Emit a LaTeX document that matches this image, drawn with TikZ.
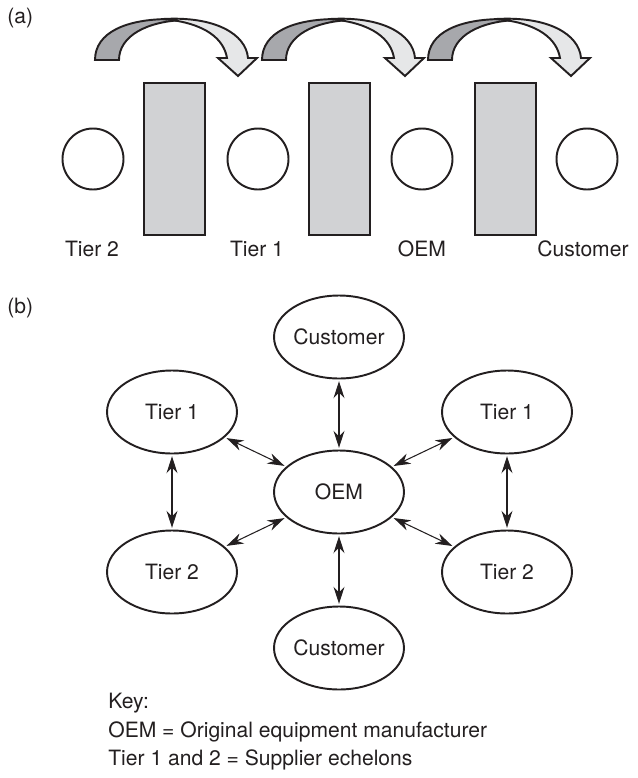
\documentclass[tikz,border=0pt]{standalone}
\usepackage{fontspec}
\setmainfont{TeX Gyre Heros}
\usepackage{tikz}
\usetikzlibrary{arrows.meta, shapes.geometric, positioning}
\definecolor{InkBlack}{RGB}{35,31,32}
\definecolor{ArcDark}{RGB}{167,168,172}
\definecolor{ArcLight}{RGB}{230,231,232}
\definecolor{BoxGray}{RGB}{209,210,212}

\begin{document}
\begin{tikzpicture}[x=0.02cm, y=-0.02cm, font=\fontsize{12}{14}\selectfont, InkBlack,
	tier/.style={ellipse, draw=InkBlack, line width=1.1pt, minimum width=2.6cm,
		minimum height=1.66cm, inner sep=0pt},
	link/.style={{Stealth[length=3.4mm, width=2.2mm]}-{Stealth[length=3.4mm, width=2.2mm]},
		line width=0.6pt, shorten <=1pt, shorten >=1pt},
	plain/.style={inner sep=0pt}]
	\useasboundingbox (0,0) rectangle (638,778);

	% (a) linear chain
	\node[plain, anchor=base west] (labA) at (7,23) {(a)};
	\foreach \x in {95,262,428} {
		\draw[fill=ArcDark, line width=1.1pt] (\x,60) .. controls (\x,32) and (\x+32,19) .. (\x+75,19)
			.. controls (\x+81,19) and (\x+86,19.5) .. (\x+90,20)
			.. controls (\x+52,21) and (\x+24,36) .. (\x+24,60) -- cycle;
		\draw[fill=ArcLight, line width=1.1pt, line join=miter] (\x+68,19)
			.. controls (\x+120,16) and (\x+151,34) .. (\x+153,58) -- (\x+162,58) -- (\x+143,76)
			-- (\x+123,58) -- (\x+132,58) .. controls (\x+129,40) and (\x+112,23) .. (\x+68,19) -- cycle;
	}
	\foreach \x in {144,309,475}
		\draw[fill=BoxGray, line width=1.1pt] (\x,83) rectangle (\x+61,235);
	\foreach \x/\lx/\name/\txt in {93/92/stTwo/Tier 2, 258/257/stOne/Tier 1,
			422/422/stOem/OEM, 587/583/stCus/Customer} {
		\node[circle, draw=InkBlack, line width=1.1pt, minimum size=1.22cm, inner sep=0pt] (\name) at (\x,159) {};
		\node[plain, anchor=base] (\name-lab) at (\lx,256) {\txt};
	}

	% (b) network round the OEM
	\node[plain, anchor=base west] (labB) at (7,313) {(b)};
	\node[tier] (oem) at (339,492) {OEM};
	\node[tier] (cusTop) at (339,337) {Customer};
	\node[tier] (cusBot) at (339,648) {Customer};
	\node[tier] (oneL) at (172,412) {Tier 1};
	\node[tier] (oneR) at (507,412) {Tier 1};
	\node[tier] (twoL) at (172,572) {Tier 2};
	\node[tier] (twoR) at (507,572) {Tier 2};

	\draw[link] (cusTop) -- (oem);
	\draw[link] (oem) -- (cusBot);
	\draw[link] (oneL) -- (oem);
	\draw[link] (oneR) -- (oem);
	\draw[link] (twoL) -- (oem);
	\draw[link] (twoR) -- (oem);
	\draw[link] (oneL) -- (twoL);
	\draw[link] (oneR) -- (twoR);

	% key
	\node[plain, anchor=base west] (key) at (108,708) {Key:};
	\node[plain, anchor=base west] (keyOem) at (108,737) {OEM = Original equipment manufacturer};
	\node[plain, anchor=base west] (keyTier) at (108,765) {Tier 1 and 2 = Supplier echelons};
\end{tikzpicture}
\end{document}
